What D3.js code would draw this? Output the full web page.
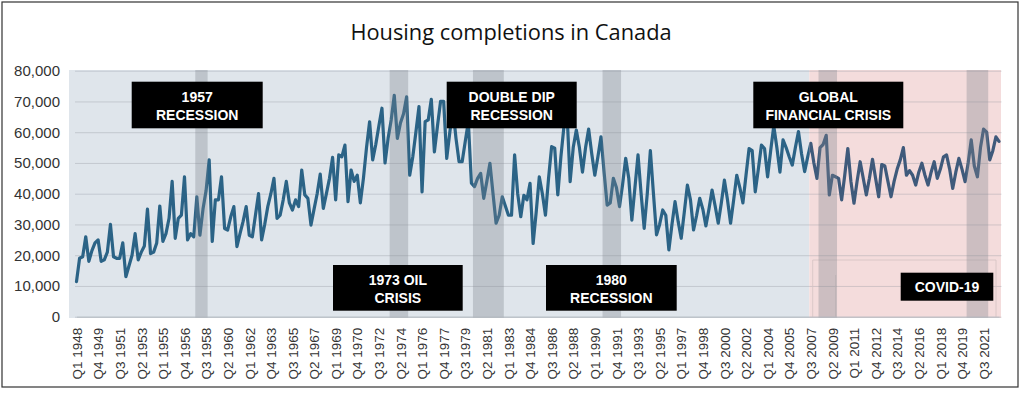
<!DOCTYPE html>
<html>
<head>
<meta charset="utf-8">
<script src="https://cdn.jsdelivr.net/npm/d3@7"></script>
<style>
  html, body { margin: 0; padding: 0; background: #fff; }
  svg { display: block; }
</style>
</head>
<body>
<svg id="chart" width="1024" height="398"></svg>
<script>
// quarterly categories, Q1 1948 .. Q4 2022
const years = d3.range(1948, 2023);
const quarters = years.flatMap(yr => [1, 2, 3, 4].map(q => 'Q' + q + ' ' + yr));

// housing completions, thousands of units
const comp1948s = [11.4, 19, 19.5, 26, 18, 21.5, 24, 25, 18, 18.5, 21, 30, 19.5, 19, 19, 24,
  13, 16.5, 20, 27, 18.5, 21, 23, 35, 20.5, 21, 24, 36, 24.5, 27, 32, 44,
  25.5, 32, 33, 45.5, 25, 27, 26, 39, 26.5, 35, 41, 51, 24.5, 38, 38, 45.5];
const comp1960s = [28.7, 28.2, 32.5, 35.8, 22.8, 27, 31, 35.8, 26.5, 26, 33, 40, 25, 30, 35.8, 40,
  45, 32, 33, 38, 44, 37, 34.7, 38, 35.8, 47.7, 39.6, 38.5, 29.8, 35, 40, 46.4,
  35.2, 40, 45, 51.8, 38, 52.6, 52, 55.8];
const comp1970s = [37.4, 47.7, 44, 46, 37, 45, 55, 63.4, 51, 56, 62, 67.8, 50, 58, 64, 72,
  58, 63, 66, 71.5, 46, 52, 60, 68.3, 40.6, 63.4, 64, 70.7, 53.6, 62, 70, 70,
  51.5, 60, 67.8, 58, 50.4, 50.4, 57, 63.4];
const comp1980s = [43.4, 42.3, 45, 46.6, 38.5, 44, 49.9, 40, 30.4, 33, 39, 36, 33, 33, 52.6, 40,
  32.5, 39.5, 38, 43.4, 23.8, 34, 45.5, 40, 33, 45, 55.3, 54.8, 39.6, 52, 62, 66,
  43.9, 55, 60.7, 55, 47, 55, 61, 53];
const comp1990s = [46, 52, 58.5, 47, 36.3, 37, 45, 42, 35.8, 43, 51.5, 45, 31.4, 42, 52.6, 40,
  28.7, 40, 54, 40, 26.6, 30, 34.7, 33, 21.7, 30, 37.4, 31, 25.5, 34, 42.8, 38,
  28.2, 33, 38.5, 35, 29.5, 35, 41.2, 36];
const comp2000s = [30.4, 37, 44.4, 38, 30.4, 38, 46, 42, 37, 46, 54.7, 54, 40.6, 48, 55.8, 54.7,
  45.5, 54, 62, 55, 47, 57.5, 55, 52, 49.3, 55, 60.2, 53, 47.2, 52, 56.4, 50,
  45, 55, 56, 59, 39.6, 46, 45.5, 45];
const comp2010s = [38, 46, 54.7, 44, 36.9, 44, 50.4, 45, 39.6, 45, 51.2, 45, 39, 49.5, 49, 44,
  39, 44, 48, 51, 55, 46, 47.5, 46, 42.8, 47, 49.9, 46, 42.8, 47, 50.4, 45,
  48, 52, 52.6, 48, 41.7, 47, 51.5, 48];
const comp2020s = [43.9, 50, 57.5, 49, 45.5, 55, 61, 60, 51, 54, 58.5, 57];
const completions = [].concat(comp1948s, comp1960s, comp1970s, comp1980s, comp1990s, comp2000s, comp2010s, comp2020s);

// shaded periods (first and last quarter)
const recessionFrom = ['Q4 1957', 'Q3 1973', 'Q2 1980', 'Q4 1990', 'Q2 2008', 'Q2 2020'];
const recessionTo = ['Q3 1958', 'Q4 1974', 'Q3 1982', 'Q1 1992', 'Q3 2009', 'Q4 2021'];
const pinkFrom = 'Q3 2007';

const noteLines = [['1957', 'RECESSION'], ['1973 OIL', 'CRISIS'], ['DOUBLE DIP', 'RECESSION'],
  ['1980', 'RECESSION'], ['GLOBAL', 'FINANCIAL CRISIS'], ['COVID-19']];

const yTicks = d3.range(0, 80001, 10000);

const svg = d3.select('#chart');
const plotLeft = 75, plotRight = 1001.5, plotTop = 70.7, plotBottom = 316.7;

const x = d3.scalePoint().domain(quarters).range([76.5, 999]);
const step = x.step();
const y = d3.scaleLinear().domain([0, 80000]).range([plotBottom, plotTop]);

// frame
svg.append('rect')
  .attr('x', 2).attr('y', 2).attr('width', 1016).attr('height', 385)
  .attr('fill', '#fff').attr('stroke', '#333').attr('stroke-width', 1.2);

// title
svg.append('text')
  .attr('x', 511).attr('y', 39.5)
  .attr('text-anchor', 'middle')
  .attr('font-family', '"Open Sans", sans-serif')
  .attr('font-size', 21.8)
  .attr('fill', '#111')
  .text('Housing completions in Canada');

// backgrounds
const pinkX = x(pinkFrom) - step / 2;
svg.append('rect')
  .attr('x', 69).attr('y', 70).attr('width', pinkX - 69).attr('height', 248)
  .attr('fill', '#dfe5eb');
svg.append('rect')
  .attr('x', pinkX).attr('y', 70).attr('width', plotRight - 0.5 - pinkX).attr('height', 248)
  .attr('fill', '#f4dcdc');

// grid
svg.append('g')
  .attr('transform', 'translate(' + plotLeft + ',0)')
  .call(d3.axisLeft(y).tickValues(yTicks).tickSize(-(plotRight - plotLeft)).tickFormat(''))
  .call(g => g.select('.domain').remove())
  .call(g => g.selectAll('line').attr('stroke', '#8f969d').attr('stroke-opacity', 0.35));

// faint leftover frame in the pink area
svg.append('path')
  .attr('d', 'M812.7,317V260H996V317M835.7,317V275')
  .attr('fill', 'none').attr('stroke', '#d4c2c2').attr('stroke-width', 0.8);

// line, split in two colours at the pink area
const defs = svg.append('defs');
defs.append('clipPath').attr('id', 'clipA')
  .append('rect').attr('x', 0).attr('y', 0).attr('width', pinkX).attr('height', 398);
defs.append('clipPath').attr('id', 'clipB')
  .append('rect').attr('x', pinkX).attr('y', 0).attr('width', 1024 - pinkX).attr('height', 398);

const line = d3.line()
  .x((d, i) => x(quarters[i]))
  .y(d => y(d * 1000));

[['clipA', '#2b6386'], ['clipB', '#3f5a7b']].forEach(([clip, color]) => {
  svg.append('path')
    .datum(completions)
    .attr('clip-path', 'url(#' + clip + ')')
    .attr('fill', 'none')
    .attr('stroke', color)
    .attr('stroke-width', 3.2)
    .attr('stroke-linejoin', 'round')
    .attr('stroke-linecap', 'round')
    .attr('d', line);
});

// recession bands drawn over the line
svg.append('g')
  .selectAll('rect')
  .data(recessionFrom)
  .join('rect')
  .attr('x', d => x(d) - step / 2)
  .attr('y', 70)
  .attr('width', (d, i) => x(recessionTo[i]) - x(d) + step)
  .attr('height', 248)
  .attr('fill', '#7c848c')
  .attr('fill-opacity', 0.33);

// y labels
svg.append('g')
  .attr('transform', 'translate(' + plotLeft + ',0)')
  .call(d3.axisLeft(y).tickValues(yTicks).tickSize(0).tickPadding(15).tickFormat(d3.format(',')))
  .call(g => g.select('.domain').remove())
  .call(g => g.selectAll('text')
    .attr('font-family', '"Liberation Sans", Arial, sans-serif')
    .attr('font-size', 15)
    .attr('fill', '#333'));

// x labels
svg.append('g')
  .attr('transform', 'translate(0,' + plotBottom + ')')
  .call(d3.axisBottom(x).tickValues(quarters.filter((d, i) => i % 7 === 0)).tickSize(0).tickPadding(0))
  .call(g => g.select('.domain').attr('stroke', '#b9bec4'))
  .call(g => g.selectAll('text')
    .attr('font-family', '"Liberation Sans", Arial, sans-serif')
    .attr('font-size', 13.5)
    .attr('fill', '#333')
    .attr('transform', 'rotate(-90)')
    .attr('text-anchor', 'end')
    .attr('x', -11)
    .attr('y', 0)
    .attr('dy', '0.35em'));

// annotation boxes
const boxes = [
  [131.7, 81.7, 131, 46.6],
  [333, 265, 129.7, 45.7],
  [446.7, 81.7, 130, 46.6],
  [546, 265, 130.7, 45.7],
  [753.3, 81.7, 150, 46.6],
  [900.7, 272.7, 92.6, 28]
];
noteLines.forEach((lines, k) => {
  const [bx, by, bw, bh] = boxes[k];
  svg.append('rect')
    .attr('x', bx).attr('y', by).attr('width', bw).attr('height', bh)
    .attr('fill', '#000');
  const cy = by + bh / 2;
  const t = svg.append('text')
    .attr('text-anchor', 'middle')
    .attr('font-family', '"Liberation Sans", Arial, sans-serif')
    .attr('font-weight', 'bold')
    .attr('font-size', 14)
    .attr('fill', '#fff');
  lines.forEach((s, j) => {
    t.append('tspan')
      .attr('x', bx + bw / 2)
      .attr('y', lines.length === 1 ? cy + 5 : cy - 3.3 + j * 18.3)
      .text(s);
  });
});
</script>
</body>
</html>
